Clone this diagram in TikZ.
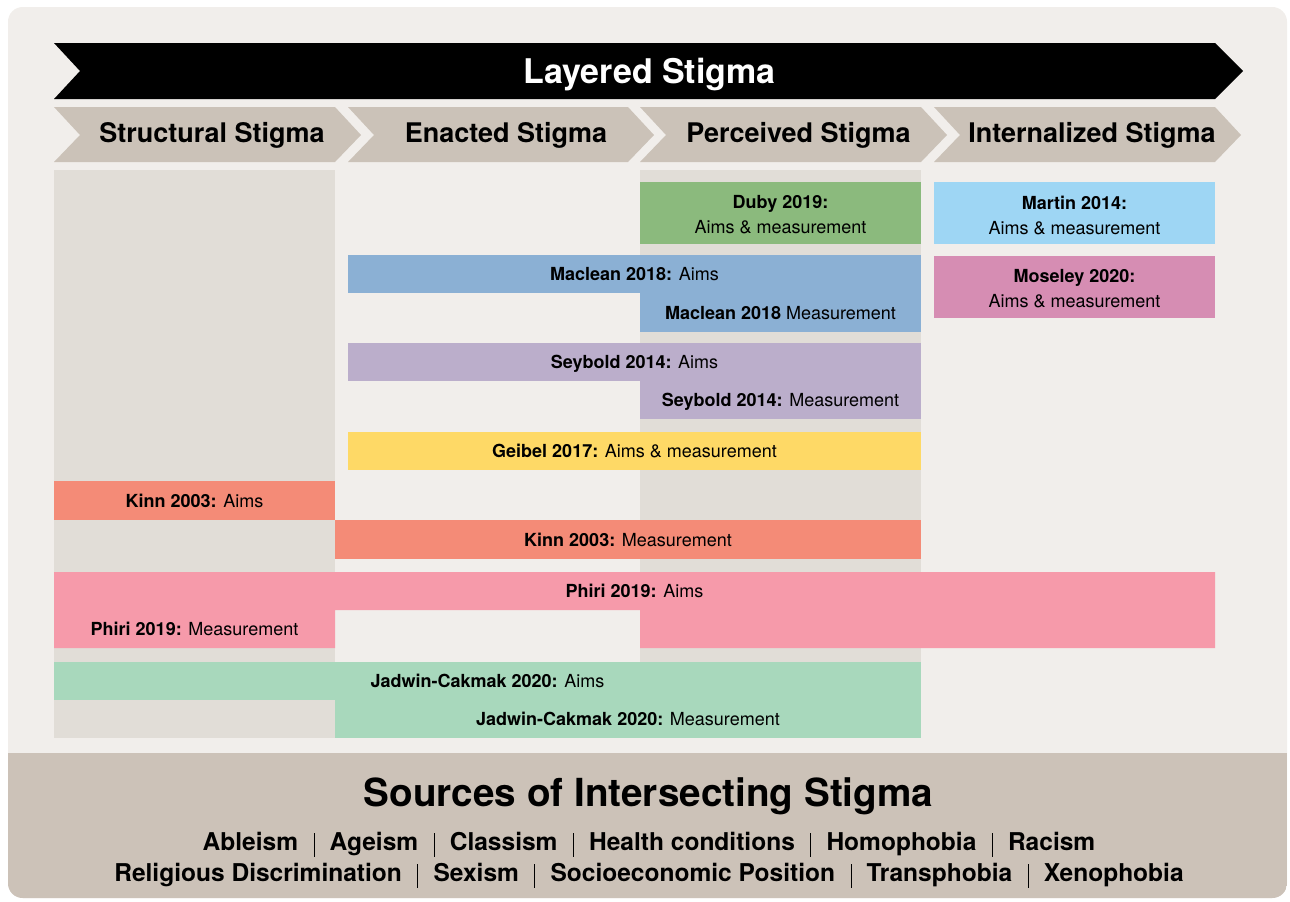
\documentclass[tikz,border=0pt]{standalone}
\usepackage{fontspec}
\setmainfont{TeX Gyre Heros}
\usepackage{tikz}

\definecolor{panelbg}{HTML}{F1EEEB}
\definecolor{colbg}{HTML}{E1DDD7}
\definecolor{chevbg}{HTML}{CBC2B8}
\definecolor{bandbg}{HTML}{CCC2B8}
\definecolor{dubyc}{HTML}{8BBA7D}
\definecolor{martinc}{HTML}{9ED6F4}
\definecolor{macleanc}{HTML}{8BB0D4}
\definecolor{moseleyc}{HTML}{D68DB3}
\definecolor{seyboldc}{HTML}{BBAECB}
\definecolor{geibelc}{HTML}{FED966}
\definecolor{kinnc}{HTML}{F48B77}
\definecolor{phiric}{HTML}{F69AAA}
\definecolor{jadwinc}{HTML}{A8D8BC}

\newcommand{\vbar}{\hspace{0.63em}\rule[-0.28em]{0.5pt}{0.98em}\hspace{0.63em}}

\begin{document}
\begin{tikzpicture}[x=0.75pt,y=0.75pt,yscale=-1,xscale=1,
  lbl/.style={inner sep=0pt, align=center, font=\fontsize{13.5}{18.75}\selectfont},
  onel/.style={lbl, anchor=base},
  stage/.style={inner sep=0pt, anchor=base, font=\bfseries\fontsize{20.25}{24}\selectfont},
  srclist/.style={inner sep=0pt, anchor=base, font=\bfseries\fontsize{18.4}{22}\selectfont}]
\useasboundingbox (0,0) rectangle (1290,901);

%Rounded Rect: panel and bottom band
\fill [panelbg, rounded corners=11pt] (8,7) rectangle (1287,898);
\begin{scope}
\clip [rounded corners=11pt] (8,7) rectangle (1287,898);
\fill [bandbg] (8,753) rectangle (1287,901);
\end{scope}

%Shape: column backgrounds
\fill [colbg] (54,170) rectangle (335,738);
\fill [colbg] (640,170) rectangle (921,738);

%Shape: Layered Stigma arrow
\fill [black] (54,43) -- (1215,43) -- (1243,71) -- (1215,99) -- (54,99) -- (80,71) -- cycle;
\node [inner sep=0pt, anchor=base, text=white, font=\bfseries\fontsize{25.5}{30}\selectfont] (layered) at (649.5,83) {Layered Stigma};

%Shape: stage chevrons
\fill [chevbg] (54,107) -- (335,107) -- (361,135) -- (335,162) -- (54,162) -- (80,135) -- cycle;
\fill [chevbg] (348,107) -- (628,107) -- (654,135) -- (628,162) -- (348,162) -- (374,135) -- cycle;
\fill [chevbg] (640,107) -- (921,107) -- (947,135) -- (921,162) -- (640,162) -- (666,135) -- cycle;
\fill [chevbg] (934,107) -- (1215,107) -- (1241,135) -- (1215,162) -- (934,162) -- (960,135) -- cycle;
\node [stage] (structural) at (212,142) {Structural Stigma};
\node [stage] (enacted) at (506,142) {Enacted Stigma};
\node [stage] (perceived) at (798.5,142) {Perceived Stigma};
\node [stage] (internalized) at (1092,142) {Internalized Stigma};

%Rectangles: studies
\fill [dubyc] (640,182) rectangle (921,244);
\node [lbl] (duby) at (780.5,215) {\textbf{Duby 2019:}\\Aims \& measurement};
\fill [martinc] (934,182) rectangle (1215,244);
\node [lbl] (martin) at (1074.5,215) {\textbf{Martin 2014:}\\Aims \& measurement};
\fill [moseleyc] (934,256) rectangle (1215,318);
\node [lbl] (moseley) at (1074.5,289) {\textbf{Moseley 2020:}\\Aims \& measurement};

\fill [macleanc] (348,255) rectangle (921,293);
\fill [macleanc] (640,293) rectangle (921,332);
\node [onel] (macleanaims) at (634.5,280.5) {\textbf{Maclean 2018:} Aims};
\node [onel] (macleanmeas) at (780.5,319) {\textbf{Maclean 2018} Measurement};

\fill [seyboldc] (348,343) rectangle (921,381);
\fill [seyboldc] (640,381) rectangle (921,419);
\node [onel] (seyboldaims) at (634.5,368.5) {\textbf{Seybold 2014:} Aims};
\node [onel] (seyboldmeas) at (780.5,406.5) {\textbf{Seybold 2014:} Measurement};

\fill [geibelc] (348,432) rectangle (921,470);
\node [onel] (geibel) at (634.5,457.5) {\textbf{Geibel 2017:} Aims \& measurement};

\fill [kinnc] (54,481) rectangle (335,520);
\fill [kinnc] (335,520) rectangle (921,559);
\node [onel] (kinnaims) at (194.5,507) {\textbf{Kinn 2003:} Aims};
\node [onel] (kinnmeas) at (628,546) {\textbf{Kinn 2003:} Measurement};

\fill [phiric] (54,572) -- (1215,572) -- (1215,648) -- (640,648) -- (640,610) -- (335,610) -- (335,648) -- (54,648) -- cycle;
\node [onel] (phiriaims) at (634.5,597.5) {\textbf{Phiri 2019:} Aims};
\node [onel] (phirimeas) at (194.5,635.5) {\textbf{Phiri 2019:} Measurement};

\fill [jadwinc] (54,662) rectangle (921,700);
\fill [jadwinc] (335,700) rectangle (921,738);
\node [onel] (jadwinaims) at (487.5,687.5) {\textbf{Jadwin-Cakmak 2020:} Aims};
\node [onel] (jadwinmeas) at (628,725.5) {\textbf{Jadwin-Cakmak 2020:} Measurement};

% Text Node: sources
\node [inner sep=0pt, anchor=base, font=\bfseries\fontsize{29}{34}\selectfont] (sources) at (648.5,806.5) {Sources of Intersecting Stigma};
\node [srclist] (listone) at (649,850) {Ableism\vbar Ageism\vbar Classism\vbar Health conditions\vbar Homophobia\vbar Racism};
\node [srclist] (listtwo) at (649,881) {Religious Discrimination\vbar Sexism\vbar Socioeconomic Position\vbar Transphobia\vbar Xenophobia};

\end{tikzpicture}
\end{document}
